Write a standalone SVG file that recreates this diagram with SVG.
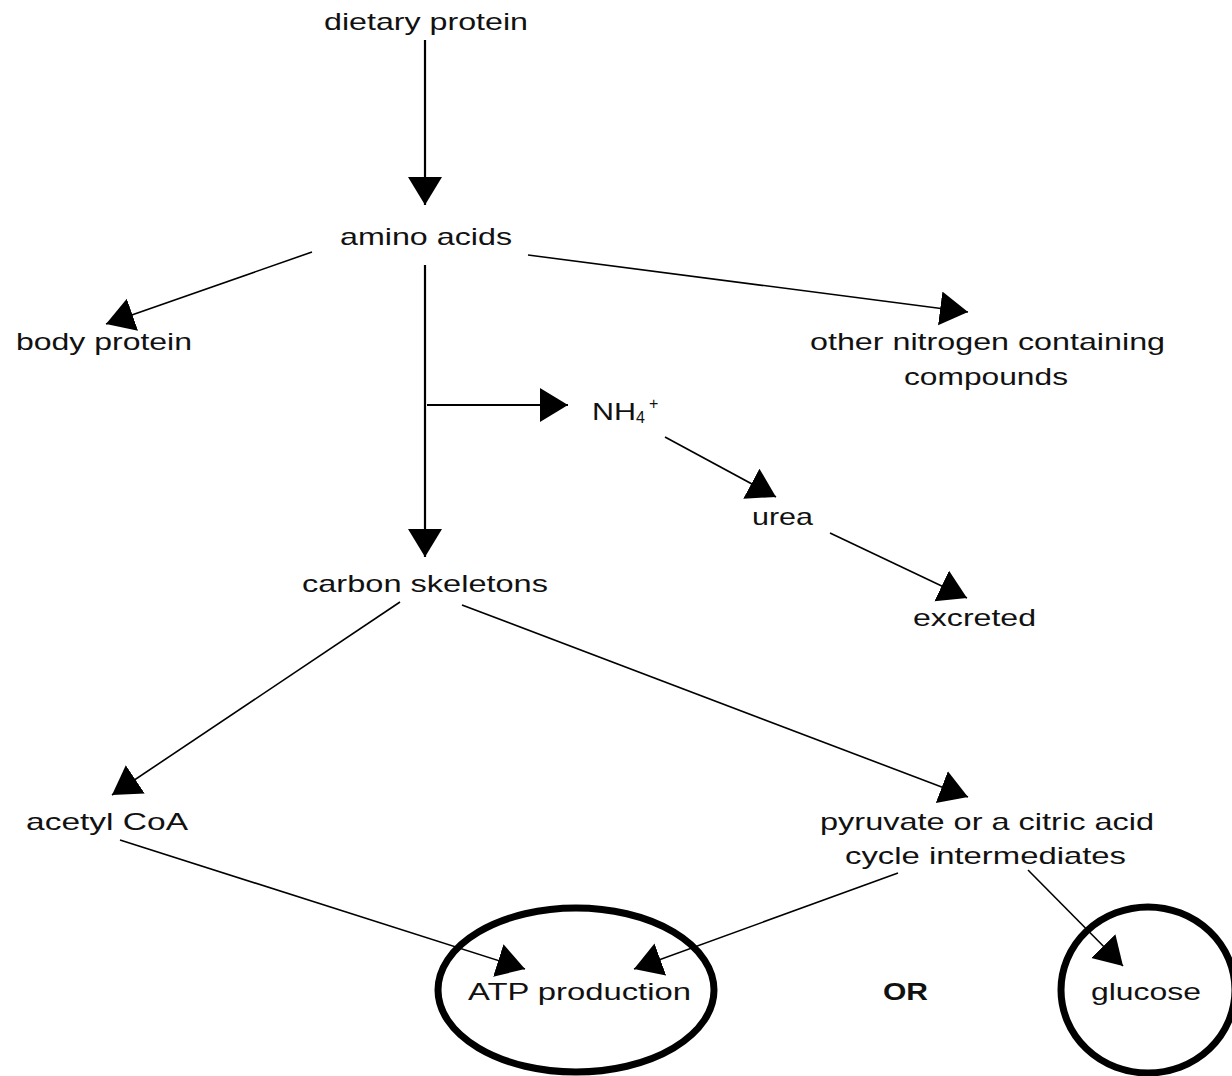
<svg xmlns="http://www.w3.org/2000/svg" width="1232" height="1076" viewBox="0 0 1232 1076">
<style>
text{font-family:"Liberation Sans",Arial,sans-serif;font-size:24px;fill:#111;text-anchor:start}
.b{font-weight:bold}
.c line{stroke:#000;stroke-width:1.6}
.c .v{stroke-width:2.2}
.o{fill:none;stroke:#000;stroke-width:7}
</style>
<defs>
<marker id="ah" markerUnits="userSpaceOnUse" markerWidth="40" markerHeight="40" refX="28" refY="17" orient="auto">
<path d="M0,0 L28,17 L0,34 Z" fill="#000"/>
</marker>
</defs>
<rect width="1232" height="1076" fill="#fff"/>
<g class="c" id="connectors">
<line class="v" x1="425" y1="40" x2="425" y2="205" marker-end="url(#ah)"/>
<line x1="312" y1="252" x2="106" y2="324" marker-end="url(#ah)"/>
<line x1="528" y1="255" x2="968" y2="312" marker-end="url(#ah)"/>
<line class="v" x1="425" y1="265" x2="425" y2="557" marker-end="url(#ah)"/>
<line class="v" x1="427" y1="405" x2="568" y2="405" marker-end="url(#ah)"/>
<line x1="665" y1="437" x2="776" y2="497" marker-end="url(#ah)"/>
<line x1="830" y1="533" x2="967" y2="598" marker-end="url(#ah)"/>
<line x1="400" y1="602" x2="112" y2="795" marker-end="url(#ah)"/>
<line x1="462" y1="605" x2="968" y2="797" marker-end="url(#ah)"/>
<line x1="120" y1="840" x2="525" y2="969" marker-end="url(#ah)"/>
<line x1="898" y1="873" x2="634" y2="969" marker-end="url(#ah)"/>
<line x1="1028" y1="870" x2="1123" y2="966" marker-end="url(#ah)"/>
</g>
<g id="dietary-protein"><text x="324" y="30" textLength="204" lengthAdjust="spacingAndGlyphs">dietary protein</text></g>
<g id="amino-acids"><text x="340" y="245" textLength="172" lengthAdjust="spacingAndGlyphs">amino acids</text></g>
<g id="body-protein"><text x="16" y="350" textLength="176" lengthAdjust="spacingAndGlyphs">body protein</text></g>
<g id="other-nitrogen"><text x="810" y="350" textLength="355" lengthAdjust="spacingAndGlyphs">other nitrogen containing</text><text x="904" y="385" textLength="164" lengthAdjust="spacingAndGlyphs">compounds</text></g>
<g id="nh4"><text x="592" y="420"><tspan textLength="44" lengthAdjust="spacingAndGlyphs">NH</tspan><tspan font-size="16" dy="3">4</tspan><tspan font-size="16" dx="4" dy="-14">+</tspan></text></g>
<g id="urea"><text x="752" y="525" textLength="61" lengthAdjust="spacingAndGlyphs">urea</text></g>
<g id="carbon-skeletons"><text x="302" y="592" textLength="246" lengthAdjust="spacingAndGlyphs">carbon skeletons</text></g>
<g id="excreted"><text x="913" y="626" textLength="123" lengthAdjust="spacingAndGlyphs">excreted</text></g>
<g id="acetyl-coa"><text x="26" y="830" textLength="162" lengthAdjust="spacingAndGlyphs">acetyl CoA</text></g>
<g id="pyruvate"><text x="820" y="830" textLength="334" lengthAdjust="spacingAndGlyphs">pyruvate or a citric acid</text><text x="845" y="864" textLength="281" lengthAdjust="spacingAndGlyphs">cycle intermediates</text></g>
<g id="atp-production"><ellipse class="o" cx="576" cy="990" rx="138" ry="82"/><text x="468" y="1000" textLength="223" lengthAdjust="spacingAndGlyphs">ATP production</text></g>
<g id="or"><text class="b" x="883" y="1000" textLength="45" lengthAdjust="spacingAndGlyphs">OR</text></g>
<g id="glucose"><ellipse class="o" cx="1148" cy="990" rx="87" ry="83"/><text x="1091" y="1000" textLength="110" lengthAdjust="spacingAndGlyphs">glucose</text></g>
</svg>
